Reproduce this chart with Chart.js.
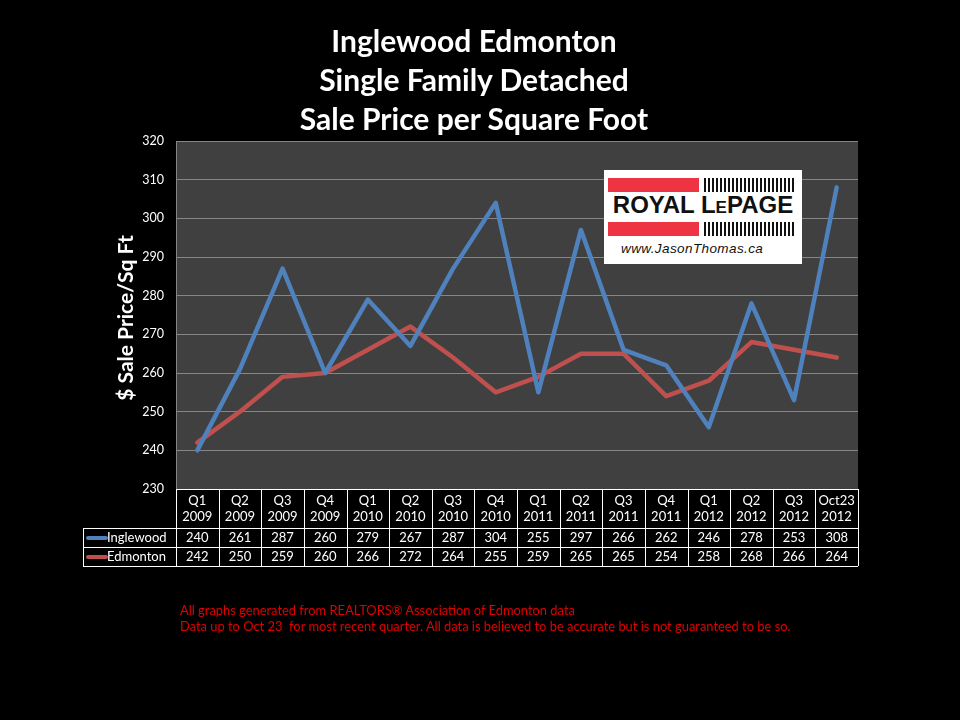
<!DOCTYPE html>
<html>
<head>
<meta charset="utf-8">
<script src="https://cdn.jsdelivr.net/npm/chart.js@4/dist/chart.umd.min.js"></script>
<style>
  html, body { margin: 0; padding: 0; background: #000; }
  #wrap { position: relative; width: 960px; height: 720px; overflow: hidden; background: #000; }
  #chart { position: absolute; left: 0; top: 0; }
  .title { position: absolute; left: 0; width: 948px; text-align: center; color: #fff;
    font: bold 30px Lato, "Open Sans", sans-serif; line-height: 39px; top: 21px; }
  .foot { position: absolute; left: 180px; top: 602px; color: #e00000;
    font: 12.9px Lato, "Open Sans", sans-serif; line-height: 16px; white-space: nowrap; }
  .logo { position: absolute; left: 604px; top: 170px; width: 198px; height: 94px; background: #fff; }
  .bar { position: absolute; height: 14px; background: #ee3342; left: 4px; width: 91px; }
  .stripes { position: absolute; height: 14px; left: 100px; width: 90px;
    background: repeating-linear-gradient(90deg, #111 0 2px, #fff 2px 4px); }
  .rlp { position: absolute; left: 2px; top: 23px; width: 194px; text-align: center;
    font: bold 24px "Liberation Sans", Arial, sans-serif; color: #111; line-height: 24px; }
  .rlp small { font-size: 17px; }
  .url { position: absolute; left: 17px; top: 71px; font: italic 13.5px "Liberation Sans", Arial, sans-serif;
    color: #111; letter-spacing: 0.4px; }
</style>
</head>
<body>
<div id="wrap">
  <canvas id="chart" width="960" height="720"></canvas>
  <div class="title">Inglewood Edmonton<br>Single Family Detached<br>Sale Price per Square Foot</div>
  <div class="logo">
    <div class="bar" style="top:8px"></div>
    <div class="stripes" style="top:8px"></div>
    <div class="rlp">ROYAL L<small>E</small>PAGE</div>
    <div class="bar" style="top:52px"></div>
    <div class="stripes" style="top:52px"></div>
    <div class="url">www.JasonThomas.ca</div>
  </div>
  <div class="foot">All graphs generated from REALTORS® Association of Edmonton data<br>Data up to Oct 23&nbsp; for most recent quarter. All data is believed to be accurate but is not guaranteed to be so.</div>
</div>
<script>
var quarters = ['Q1', 'Q2', 'Q3', 'Q4', 'Q1', 'Q2', 'Q3', 'Q4', 'Q1', 'Q2', 'Q3', 'Q4', 'Q1', 'Q2', 'Q3', 'Oct23'];
var years = ['2009', '2009', '2009', '2009', '2010', '2010', '2010', '2010', '2011', '2011', '2011', '2011', '2012', '2012', '2012', '2012'];
var inglewood = [240, 261, 287, 260, 279, 267, 287, 304, 255, 297, 266, 262, 246, 278, 253, 308];
var edmonton = [242, 250, 259, 260, 266, 272, 264, 255, 259, 265, 265, 254, 258, 268, 266, 264];
var yMin = 230, yMax = 320, yStep = 10;

var BLUE = '#4f81bd';
var RED = '#c0504d';
var FONT = 'Lato, "Open Sans", sans-serif';

var labels = quarters.map(function (q, i) { return q + ' ' + years[i]; });

var backdrop = {
  id: 'backdrop',
  beforeDraw: function (chart) {
    var c = chart.ctx, a = chart.chartArea;
    c.save();
    c.fillStyle = '#000';
    c.fillRect(0, 0, chart.width, chart.height);
    c.fillStyle = '#404040';
    c.fillRect(a.left, a.top, a.right - a.left, a.bottom - a.top);
    c.restore();
  }
};

var dataTable = {
  id: 'dataTable',
  afterDraw: function (chart) {
    var c = chart.ctx, a = chart.chartArea, xs = chart.scales.x;
    var n = labels.length;
    var colW = (a.right - a.left) / n;
    var hTop = Math.round(a.bottom), hBot = hTop + 39, r1 = hBot + 19, r2 = r1 + 19;
    var legL = 83;
    c.save();
    c.strokeStyle = '#fff';
    c.lineWidth = 1;
    c.beginPath();
    // horizontal lines
    c.moveTo(a.left, hTop + 0.5); c.lineTo(a.right, hTop + 0.5);
    c.moveTo(legL, hBot + 0.5); c.lineTo(a.right, hBot + 0.5);
    c.moveTo(legL, r1 + 0.5); c.lineTo(a.right, r1 + 0.5);
    c.moveTo(legL, r2 + 0.5); c.lineTo(a.right, r2 + 0.5);
    // vertical lines
    c.moveTo(legL + 0.5, hBot); c.lineTo(legL + 0.5, r2);
    for (var i = 0; i <= n; i++) {
      var x = Math.round(a.left + i * colW) + 0.5;
      c.moveTo(x, hTop); c.lineTo(x, r2);
    }
    c.stroke();

    c.fillStyle = '#fff';
    c.font = '13px ' + FONT;
    c.textAlign = 'center';
    c.textBaseline = 'middle';
    for (var j = 0; j < n; j++) {
      var cx = xs.getPixelForValue(j);
      c.fillText(quarters[j], cx, hTop + 12);
      c.fillText(years[j], cx, hTop + 28);
      c.fillText(String(inglewood[j]), cx, hBot + 10);
      c.fillText(String(edmonton[j]), cx, r1 + 10);
    }

    // legend keys
    var rows = [[hBot + 10, BLUE, 'Inglewood'], [r1 + 10, RED, 'Edmonton']];
    rows.forEach(function (r) {
      c.strokeStyle = r[1];
      c.lineWidth = 4;
      c.lineCap = 'round';
      c.beginPath();
      c.moveTo(88, r[0]); c.lineTo(106, r[0]);
      c.stroke();
      c.fillStyle = '#fff';
      c.textAlign = 'left';
      c.fillText(r[2], 107, r[0]);
    });

    // y axis title
    c.translate(126, 318);
    c.rotate(-Math.PI / 2);
    c.textAlign = 'center';
    c.font = 'bold 21px ' + FONT;
    c.fillStyle = '#fff';
    c.fillText('$ Sale Price/Sq Ft', 0, 0);
    c.restore();
  }
};

new Chart(document.getElementById('chart').getContext('2d'), {
  type: 'line',
  data: {
    labels: labels,
    datasets: [
      { label: 'Inglewood', data: inglewood, borderColor: BLUE, borderWidth: 4.5,
        pointRadius: 0, tension: 0, borderJoinStyle: 'round', borderCapStyle: 'round' },
      { label: 'Edmonton', data: edmonton, borderColor: RED, borderWidth: 4.5,
        pointRadius: 0, tension: 0, borderJoinStyle: 'round', borderCapStyle: 'round' }
    ]
  },
  options: {
    responsive: false,
    animation: false,
    events: [],
    layout: { padding: { top: 141, right: 102, bottom: 231, left: 0 } },
    plugins: { legend: { display: false }, title: { display: false }, tooltip: { enabled: false } },
    scales: {
      x: { offset: true, display: false },
      y: {
        min: yMin, max: yMax,
        ticks: { stepSize: yStep, color: '#fff', font: { family: FONT, size: 12.5 }, padding: 12 },
        grid: { color: '#868686', drawTicks: false },
        border: { color: '#868686' },
        afterFit: function (s) { s.width = 176; }
      }
    }
  },
  plugins: [backdrop, dataTable]
});
</script>
</body>
</html>
